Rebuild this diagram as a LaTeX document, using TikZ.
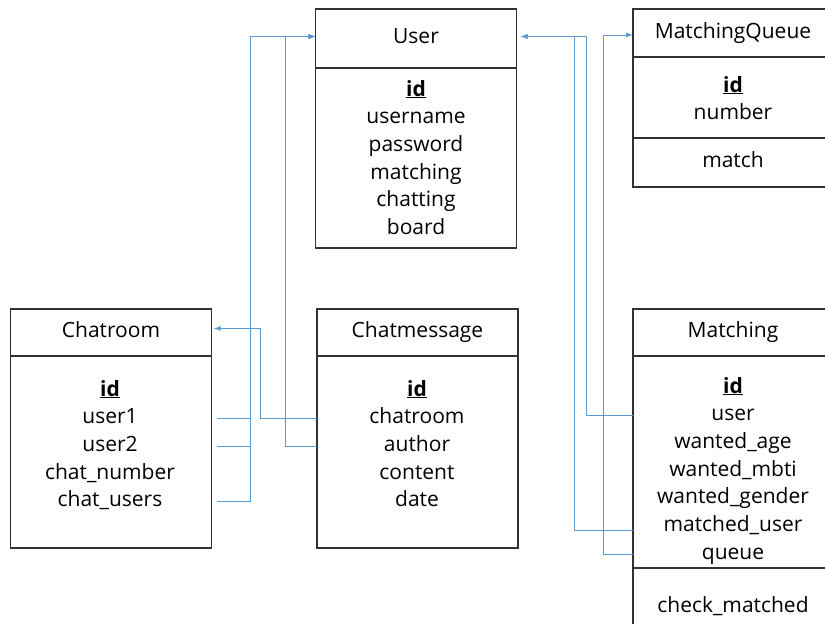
\documentclass[tikz,border=0pt]{standalone}
\usepackage{fontspec}
\usepackage{tikz}
\usetikzlibrary{
  arrows.meta,
  calc,
  positioning
}
\newfontfamily\erdfont{Open Sans}
\definecolor{fkblue}{RGB}{91,155,213}
\definecolor{boxline}{RGB}{50,50,50}

\begin{document}
\begin{tikzpicture}[
  x=1pt, y=-1pt,
  entpart/.style={draw=boxline, line width=1.1pt, inner sep=0pt, outer sep=0pt,
               minimum width=201pt, align=center, text height=15pt, text depth=5pt,
               font=\erdfont\fontsize{21}{25}\selectfont},
  attr/.style={inner sep=0pt, minimum height=27.3pt, text height=15pt, text depth=5pt,
               font=\erdfont\fontsize{21}{25}\selectfont},
  fk/.style={fkblue, line width=0.9pt},
  fkarr/.style={fk, -{Latex[length=7pt,width=5pt]}}
]
  \useasboundingbox (0,0) rectangle (825,624);

  % User
  \node[entpart, minimum height=59pt] (user) at (416,38.5) {User};
  \node[entpart, minimum height=180pt, below=0pt of user] (user-body) {};
  \node[attr] (u-id) at (416,91) {\underline{\textbf{id}}};
  \node[attr, below=0pt of u-id] (u-username) {username};
  \node[attr, below=0pt of u-username] (u-password) {password};
  \node[attr, below=0pt of u-password] (u-matching) {matching};
  \node[attr, below=0pt of u-matching] (u-chatting) {chatting};
  \node[attr, below=0pt of u-chatting] (u-board) {board};

  % MatchingQueue
  \node[entpart, minimum width=200pt, minimum height=48pt] (mqueue) at (733,33) {MatchingQueue};
  \node[entpart, minimum width=200pt, minimum height=81pt, below=0pt of mqueue] (mqueue-body) {};
  \node[entpart, minimum width=200pt, minimum height=49pt, below=0pt of mqueue-body] (mqueue-ops) {match};
  \node[attr] (q-id) at (733,87) {\underline{\textbf{id}}};
  \node[attr, below=0pt of q-id] (q-number) {number};

  % Chatroom
  \node[entpart, minimum height=47pt] (chatroom) at (111,332.5) {Chatroom};
  \node[entpart, minimum height=192pt, below=0pt of chatroom] (chatroom-body) {};
  \node[attr] (cr-id) at (110,391) {\underline{\textbf{id}}};
  \node[attr, below=0pt of cr-id] (cr-user1) {user1};
  \node[attr, below=0pt of cr-user1] (cr-user2) {user2};
  \node[attr, below=0pt of cr-user2] (cr-number) {chat\_number};
  \node[attr, below=0pt of cr-number] (cr-users) {chat\_users};

  % Chatmessage
  \node[entpart, minimum height=47pt] (chatmsg) at (417.5,332.5) {Chatmessage};
  \node[entpart, minimum height=192pt, below=0pt of chatmsg] (chatmsg-body) {};
  \node[attr] (cm-id) at (417,391) {\underline{\textbf{id}}};
  \node[attr, below=0pt of cm-id] (cm-chatroom) {chatroom};
  \node[attr, below=0pt of cm-chatroom] (cm-author) {author};
  \node[attr, below=0pt of cm-author] (cm-content) {content};
  \node[attr, below=0pt of cm-content] (cm-date) {date};

  % Matching
  \node[entpart, minimum width=200pt, minimum height=47pt] (matching) at (733,332.5) {Matching};
  \node[entpart, minimum width=200pt, minimum height=212pt, below=0pt of matching] (matching-body) {};
  \node[entpart, minimum width=200pt, minimum height=78pt, below=0pt of matching-body] (matching-ops) {check\_matched};
  \node[attr] (mt-id) at (733,388) {\underline{\textbf{id}}};
  \node[attr, below=0pt of mt-id] (mt-user) {user};
  \node[attr, below=0pt of mt-user] (mt-age) {wanted\_age};
  \node[attr, below=0pt of mt-age] (mt-mbti) {wanted\_mbti};
  \node[attr, below=0pt of mt-mbti] (mt-gender) {wanted\_gender};
  \node[attr, below=0pt of mt-gender] (mt-matched) {matched\_user};
  \node[attr, below=0pt of mt-matched] (mt-queue) {queue};

  % foreign keys
  \draw[fkarr] ($(cr-user1 -| chatroom.east)+(5,0)$) -| ($(user.west)-(65,2)$) -- ($(user.west)-(0,2)$);
  \draw[fkarr] ($(cr-user2 -| chatroom.east)+(5,0)$) -| ($(user.west)-(65,2)$) -- ($(user.west)-(0,2)$);
  \draw[fkarr] ($(cr-users -| chatroom.east)+(5,0)$) -| ($(user.west)-(65,2)$) -- ($(user.west)-(0,2)$);
  \draw[fkarr] (cm-author -| chatmsg.west) -| ($(user.west)-(30,2)$) -- ($(user.west)-(0,2)$);
  \draw[fkarr] (cm-chatroom -| chatmsg.west) -| ($(chatroom.east)+(49,-4)$) -- ($(chatroom.east)+(2,-4)$);
  \draw[fkarr] (mt-user -| matching.west) -| ($(user.east)+(70,-2)$) -- ($(user.east)+(4,-2)$);
  \draw[fkarr] ($(mt-matched -| matching.west)+(0,4)$) -| ($(user.east)+(58,-2)$) -- ($(user.east)+(4,-2)$);
  \draw[fkarr] (mt-queue -| matching.west) -| ($(mqueue.west)-(30,-2)$) -- ($(mqueue.west)+(0,2)$);
\end{tikzpicture}
\end{document}
